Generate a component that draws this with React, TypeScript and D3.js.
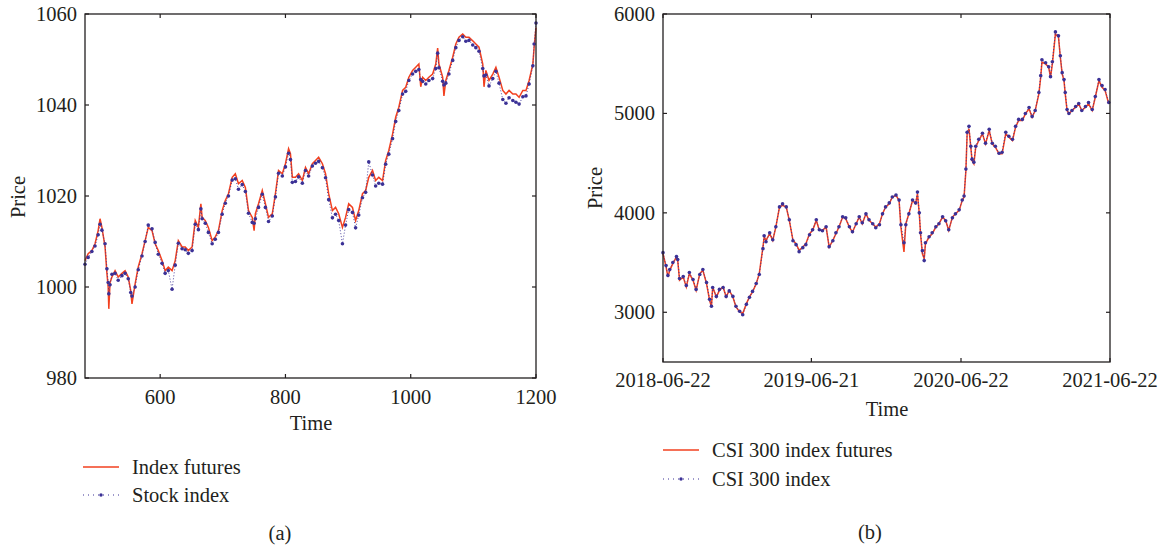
import React from "react";
import * as d3 from "d3";

// ---------- Panel (a) data ----------
const timesA = [
  480,485,491,496,501,504,507,512,515,517,
  518,520,523,528,533,539,544,549,553,555,
  560,565,571,576,581,587,592,597,603,608,
  613,619,624,629,635,640,645,651,656,661,
  665,667,672,677,683,688,693,699,704,709,
  715,720,725,731,736,741,747,750,752,757,
  763,768,773,779,784,789,795,800,805,808,
  811,816,821,827,832,837,843,848,853,859,
  864,869,875,880,885,891,896,901,907,912,
  917,923,928,933,939,944,949,955,960,965,
  971,976,981,987,992,997,1003,1008,1013,1016,
  1019,1024,1029,1035,1040,1043,1045,1051,1053,1056,
  1061,1067,1072,1077,1083,1088,1093,1099,1104,1109,
  1115,1117,1120,1125,1131,1136,1141,1147,1152,1157,
  1163,1168,1173,1179,1184,1189,1195,1197,1200,
];
const futuresA = [
  1005.8,1007.3,1008,1009.5,1012.4,1015,1013.1,1008.8,1003,1000,
  995.2,1001,1002.2,1003.6,1002.2,1003,1003.6,1002.2,999.2,996.3,
  1000.7,1004.4,1007.3,1010.2,1013.1,1012.4,1009.5,1008,1005.8,1003.6,
  1004.4,1003.6,1005.8,1010.2,1008.8,1008.8,1008,1008.8,1014.6,1013.1,
  1018.3,1015.3,1014.6,1013.1,1010.2,1011,1012.4,1016.8,1019,1020.5,
  1024.1,1024.9,1022.7,1023.4,1021.9,1016.8,1015.3,1012.4,1016.1,1018.3,
  1021.2,1018.3,1015.3,1016.1,1020.5,1025.6,1024.9,1027.1,1030.4,1029.3,
  1024.1,1024.1,1024.9,1023.4,1026.3,1024.9,1027.1,1027.8,1028.5,1027.1,
  1024.9,1020.5,1016.8,1017.5,1016.1,1013.1,1015.3,1018.3,1017.5,1014.6,
  1016.8,1020.5,1021.2,1024.1,1025.6,1023.4,1024.1,1023.4,1027.8,1030,
  1033.6,1037.3,1039.5,1043.2,1043.9,1046.1,1047.6,1048.3,1049,1044,
  1046.1,1045.4,1046.1,1046.8,1049,1052.5,1049,1046.1,1042,1045.4,
  1047.6,1050.5,1053.4,1054.9,1055.6,1054.9,1054.9,1054.1,1053.4,1052.7,
  1049,1044,1047.6,1045.4,1046.8,1048.3,1046.1,1043.2,1042.4,1043.2,
  1042.4,1042.4,1041.7,1043.2,1043.2,1045.4,1049,1052.7,1057,
];
const indexA = [
  1005.0,1006.5,1007.8,1009.0,1011.5,1013.8,1012.5,1009.5,1004.0,1001.0,
  998.5,1000.5,1002.8,1003.0,1001.5,1002.5,1003.0,1001.8,998.8,998.0,
  1000.0,1003.8,1006.8,1010.0,1013.6,1012.8,1009.8,1007.2,1005.2,1003.0,
  1003.6,999.5,1004.8,1009.6,1008.4,1008.2,1007.4,1008.0,1013.8,1012.6,
  1017.2,1015.0,1014.0,1012.0,1009.5,1010.5,1012.0,1016.0,1018.4,1020.0,
  1023.5,1023.8,1021.5,1022.5,1021.0,1016.2,1014.2,1014.0,1015.0,1017.5,
  1020.4,1017.5,1014.4,1015.6,1019.8,1025.0,1024.4,1026.4,1029.4,1028.0,
  1023.0,1023.2,1024.2,1022.8,1025.6,1024.4,1026.6,1027.2,1027.6,1026.2,
  1024.0,1019.2,1015.2,1016.0,1014.6,1009.5,1013.6,1017.0,1016.4,1013.0,
  1015.8,1019.6,1020.8,1027.5,1024.6,1022.2,1022.8,1022.6,1027.0,1029.2,
  1032.6,1036.4,1038.8,1042.4,1043.0,1045.4,1046.8,1047.4,1047.8,1045.6,
  1045.2,1044.6,1045.4,1045.8,1048.0,1051.4,1048.2,1045.2,1044.4,1044.8,
  1046.8,1049.8,1052.6,1054.2,1055.0,1054.0,1054.2,1053.2,1052.6,1051.8,
  1048.0,1046.4,1046.6,1044.2,1045.8,1047.4,1044.8,1041.2,1040.4,1041.6,
  1041.0,1040.6,1040.2,1041.8,1042.0,1044.6,1048.6,1053.4,1058.0,
];
const xTicksA = [600, 800, 1000, 1200];
const yTicksA = [980, 1000, 1020, 1040, 1060];

// ---------- Panel (b) data ----------
const daysB = [
  0,5,8,11,16,22,24,27,33,38,
  43,49,54,60,65,71,76,79,81,87,
  92,98,103,108,114,119,125,130,136,141,
  146,152,157,163,165,168,174,179,184,190,
  195,201,206,212,217,222,228,233,239,244,
  250,255,260,266,271,277,282,287,293,298,
  304,309,315,320,325,331,336,342,347,353,
  358,363,369,374,380,385,388,393,396,401,
  407,412,415,418,420,423,426,428,434,439,
  445,450,456,461,466,472,477,483,488,491,
  494,496,499,502,504,507,510,515,521,526,
  532,537,542,548,553,559,564,570,575,580,
  586,591,597,602,607,613,616,618,624,629,
  632,635,640,645,648,651,654,656,659,662,
  667,673,678,683,689,694,700,705,711,716,
  721,727,
];
const futuresB = [
  3590,3456,3355,3422,3489,3556,3522,3322,3355,3255,
  3389,3322,3221,3389,3422,3288,3121,3054,3255,3154,
  3221,3255,3154,3221,3154,3054,3004,2987,3087,3154,
  3204,3288,3389,3656,3757,3723,3790,3723,3857,4058,
  4075,4058,3924,3723,3690,3623,3656,3690,3790,3824,
  3924,3824,3824,3857,3656,3723,3790,3857,3958,3941,
  3857,3807,3891,3958,3891,3991,3924,3891,3857,3891,
  3991,4058,4092,4159,4175,4125,3857,3606,3891,3991,
  4125,4092,4192,3991,3790,3589,3539,3690,3757,3790,
  3857,3891,3958,3924,3824,3958,3991,4025,4125,4159,
  4426,4795,4845,4661,4527,4494,4661,4728,4795,4694,
  4828,4694,4661,4594,4594,4795,4761,4728,4862,4929,
  4929,4996,5046,4962,5029,5196,5364,5515,5498,5464,
  5364,5498,5799,5766,5565,5397,5330,5196,5029,4996,
  5029,5063,5096,5029,5063,5096,5029,5163,5330,5263,
  5230,5096,
];
const indexB = [
  3600,3470,3370,3430,3500,3560,3530,3340,3360,3270,
  3400,3330,3230,3380,3430,3300,3130,3060,3250,3160,
  3230,3250,3160,3215,3160,3060,3010,2975,3080,3150,
  3210,3290,3380,3640,3770,3710,3800,3730,3860,4060,
  4090,4060,3930,3720,3680,3610,3650,3680,3780,3830,
  3930,3830,3820,3860,3660,3720,3800,3860,3960,3950,
  3860,3810,3890,3960,3900,3990,3930,3890,3850,3880,
  3990,4060,4100,4160,4180,4130,3880,3700,3880,3990,
  4130,4100,4210,4000,3800,3620,3520,3700,3760,3800,
  3860,3890,3960,3920,3830,3950,3990,4030,4130,4170,
  4440,4810,4870,4670,4540,4510,4670,4740,4800,4700,
  4840,4700,4670,4600,4610,4810,4770,4740,4870,4940,
  4940,5000,5060,4970,5030,5210,5380,5540,5510,5470,
  5370,5520,5820,5780,5580,5410,5340,5210,5040,5000,
  5030,5070,5100,5030,5070,5110,5040,5170,5340,5280,
  5240,5110,
];
const xTickDaysB = [0, 242, 486, 729];
const xTickLabelsB = ["2018-06-22", "2019-06-21", "2020-06-22", "2021-06-22"];
const yTicksB = [3000, 4000, 5000, 6000];

const RED = "#f2401f";
const BLUE = "#3b3196";
const INK = "#231f20";
const FONT = "'Liberation Serif', 'DejaVu Serif', serif";
const FS = 20.5;

type Pt = { x: number; y: number };

function Panel(props: {
  xs: number[];
  fut: number[];
  idx: number[];
  xDomain: [number, number];
  yDomain: [number, number];
  left: number;
  right: number;
  top: number;
  bottom: number;
  xTicks: number[];
  xTickLabels: string[];
  xTickLabelY: number;
  yTicks: number[];
  timeLabel: { x: number; y: number };
  priceLabel: { x: number; y: number };
  legend: { x: number; y: number; gap: number; labels: string[] };
  caption: { x: number; y: number; text: string };
}) {
  const p = props;
  const x = d3.scaleLinear().domain(p.xDomain).range([p.left, p.right]);
  const y = d3.scaleLinear().domain(p.yDomain).range([p.bottom, p.top]);
  const futPts: Pt[] = p.xs.map((v, i) => ({ x: x(v), y: y(p.fut[i]) }));
  const idxPts: Pt[] = p.xs.map((v, i) => ({ x: x(v), y: y(p.idx[i]) }));
  const line = d3.line<Pt>().x((d) => d.x).y((d) => d.y);
  const tl = 4;
  const lg = p.legend;
  return (
    <g fontFamily={FONT} fill={INK}>
      <path d={line(futPts) || ""} fill="none" stroke={RED} strokeWidth={1.5} />
      <path d={line(idxPts) || ""} fill="none" stroke={BLUE} strokeWidth={0.9} strokeDasharray="1 2" />
      {idxPts.map((d, i) => (
        <circle key={i} cx={d.x} cy={d.y} r={1.8} fill={BLUE} />
      ))}
      <rect x={p.left} y={p.top} width={p.right - p.left} height={p.bottom - p.top} fill="none" stroke={INK} strokeWidth={1.3} />
      {p.xTicks.map((t, i) => (
        <g key={"xt" + i}>
          <line x1={x(t)} x2={x(t)} y1={p.bottom} y2={p.bottom - tl} stroke={INK} strokeWidth={1.2} />
          <line x1={x(t)} x2={x(t)} y1={p.top} y2={p.top + tl} stroke={INK} strokeWidth={1.2} />
          <text x={x(t)} y={p.xTickLabelY} textAnchor="middle" dominantBaseline="central" fontSize={FS}>
            {p.xTickLabels[i]}
          </text>
        </g>
      ))}
      {p.yTicks.map((t, i) => (
        <g key={"yt" + i}>
          <line x1={p.left} x2={p.left + tl} y1={y(t)} y2={y(t)} stroke={INK} strokeWidth={1.2} />
          <line x1={p.right} x2={p.right - tl} y1={y(t)} y2={y(t)} stroke={INK} strokeWidth={1.2} />
          <text x={p.left - 8} y={y(t)} textAnchor="end" dominantBaseline="central" fontSize={FS}>
            {t}
          </text>
        </g>
      ))}
      <text x={p.timeLabel.x} y={p.timeLabel.y} textAnchor="middle" dominantBaseline="central" fontSize={FS}>
        Time
      </text>
      <text
        transform={`translate(${p.priceLabel.x},${p.priceLabel.y}) rotate(-90)`}
        textAnchor="middle"
        dominantBaseline="central"
        fontSize={FS}
      >
        Price
      </text>
      <line x1={lg.x} x2={lg.x + 36} y1={lg.y} y2={lg.y} stroke={RED} strokeWidth={1.4} />
      <text x={lg.x + 49} y={lg.y} dominantBaseline="central" fontSize={FS}>
        {lg.labels[0]}
      </text>
      <line x1={lg.x} x2={lg.x + 36} y1={lg.y + lg.gap} y2={lg.y + lg.gap} stroke={BLUE} strokeWidth={1} strokeDasharray="1 4" />
      <circle cx={lg.x + 18} cy={lg.y + lg.gap} r={1.7} fill={BLUE} />
      <text x={lg.x + 49} y={lg.y + lg.gap} dominantBaseline="central" fontSize={FS}>
        {lg.labels[1]}
      </text>
      <text x={p.caption.x} y={p.caption.y} textAnchor="middle" dominantBaseline="central" fontSize={FS}>
        {p.caption.text}
      </text>
    </g>
  );
}

export default function App() {
  return (
    <div style={{ position: "absolute", left: 0, top: 0 }}>
      <svg width={1170} height={548} style={{ display: "block", background: "#fff" }}>
        <Panel
          xs={timesA}
          fut={futuresA}
          idx={indexA}
          xDomain={[480, 1200]}
          yDomain={[980, 1060]}
          left={85}
          right={536}
          top={14}
          bottom={378}
          xTicks={xTicksA}
          xTickLabels={xTicksA.map(String)}
          xTickLabelY={397}
          yTicks={yTicksA}
          timeLabel={{ x: 311, y: 423 }}
          priceLabel={{ x: 18, y: 197 }}
          legend={{ x: 83, y: 467, gap: 28, labels: ["Index futures", "Stock index"] }}
          caption={{ x: 280, y: 533, text: "(a)" }}
        />
        <Panel
          xs={daysB}
          fut={futuresB}
          idx={indexB}
          xDomain={[0, 729]}
          yDomain={[2500, 6000]}
          left={663}
          right={1110}
          top={14}
          bottom={362}
          xTicks={xTickDaysB}
          xTickLabels={xTickLabelsB}
          xTickLabelY={380}
          yTicks={yTicksB}
          timeLabel={{ x: 887, y: 409 }}
          priceLabel={{ x: 595, y: 188 }}
          legend={{ x: 663, y: 450, gap: 29, labels: ["CSI 300 index futures", "CSI 300 index"] }}
          caption={{ x: 870, y: 532, text: "(b)" }}
        />
      </svg>
    </div>
  );
}
